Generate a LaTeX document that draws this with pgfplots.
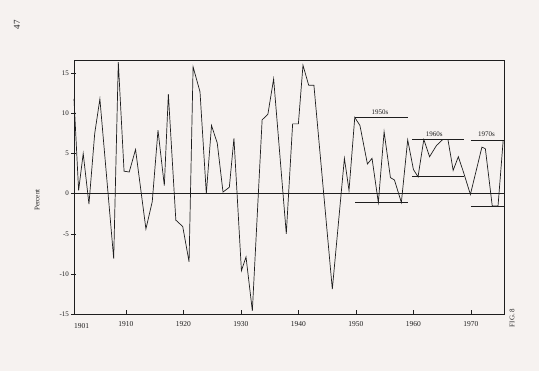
\documentclass[border=0pt]{standalone}
\usepackage{pgfplots}
\pgfplotsset{compat=1.18}
\usepackage{fontspec}
\setmainfont{Liberation Serif}
\definecolor{paper}{RGB}{246,242,240}
\definecolor{ink}{RGB}{30,30,30}
\begin{document}
\begin{tikzpicture}[x=1pt,y=1pt]
\useasboundingbox (0,0) rectangle (539,371);
\fill[paper] (0,0) rectangle (539,371);
\begin{axis}[
  at={(74pt,57pt)}, anchor=south west,
  scale only axis, width=430pt, height=254pt,
  xmin=1901, xmax=1975.74, ymin=-15, ymax=16.66,
  axis line style={ink, line width=0.75pt},
  xtick={1910,1920,...,1970},
  ytick={-15,-10,...,15},
  xtick pos=bottom, ytick pos=left,
  tick align=inside,
  major tick length=4pt,
  tick style={ink, line width=0.5pt},
  ytick style={xshift=-2.5pt},
  /pgf/number format/assume math mode=true,
  /pgf/number format/1000 sep={},
  x tick label style={font=\fontsize{7.5}{9}\selectfont, text=ink, yshift=-4pt},
  y tick label style={font=\fontsize{7}{9}\selectfont, text=ink, xshift=-1.5pt},
  clip=false,
]
\addplot[ink, line width=0.7pt] coordinates {
(1901.0,11.8) (1901.8,0.4) (1902.6,5.0) (1903.6,-1.3) (1904.6,7.5) (1905.5,11.8)
(1907.9,-8.1) (1908.7,16.4) (1909.7,2.8) (1910.6,2.7) (1911.7,5.5) (1913.5,-4.4)
(1914.6,-1.0) (1915.6,7.9) (1916.7,1.0) (1917.4,12.4) (1918.7,-3.3) (1919.9,-4.1)
(1921.0,-8.5) (1921.7,15.8) (1922.9,12.7) (1924.0,0.0) (1924.9,8.5) (1925.9,6.3)
(1926.9,0.2) (1928.0,0.8) (1928.8,6.9) (1930.1,-9.6) (1930.9,-7.9) (1932.0,-14.6)
(1933.7,9.2) (1934.7,9.9) (1935.7,14.3) (1937.9,-5.0) (1939.0,8.7) (1940.0,8.7)
(1940.8,16.0) (1941.8,13.5) (1942.7,13.5) (1945.9,-11.9) (1948.0,4.4) (1948.8,0.4)
(1949.8,9.5) (1950.7,8.5) (1952.0,3.7) (1952.8,4.4) (1953.9,-1.1) (1954.9,7.7)
(1956.0,2.0) (1956.7,1.7) (1957.9,-1.1) (1959.0,6.7) (1960.0,3.0) (1960.8,2.1)
(1961.8,6.75) (1962.8,4.6) (1964.0,6.0) (1965.1,6.75) (1966.0,6.75) (1966.9,2.9)
(1967.8,4.6) (1968.6,2.9) (1969.9,-0.1) (1971.9,5.8) (1972.5,5.6) (1973.7,-1.55)
(1974.7,-1.55) (1975.6,6.66)
};
% zero line
\addplot[ink, line width=0.75pt, forget plot] coordinates {(1901,0) (1975.74,0)};
% decade bands
\addplot[ink, line width=0.65pt, forget plot] coordinates {(1949.8,9.5) (1959.0,9.5)};
\addplot[ink, line width=0.65pt, forget plot] coordinates {(1949.9,-1.1) (1959.0,-1.1)};
\addplot[ink, line width=0.65pt, forget plot] coordinates {(1959.8,6.75) (1968.8,6.75)};
\addplot[ink, line width=0.65pt, forget plot] coordinates {(1959.8,2.1) (1968.8,2.1)};
\addplot[ink, line width=0.65pt, forget plot] coordinates {(1970.0,6.66) (1975.74,6.66)};
\addplot[ink, line width=0.65pt, forget plot] coordinates {(1970.0,-1.55) (1975.74,-1.55)};
\node[font=\fontsize{7}{8}\selectfont, text=ink, anchor=base] at (axis cs:1954.2,9.9) {1950s};
\node[font=\fontsize{7}{8}\selectfont, text=ink, anchor=base] at (axis cs:1963.6,7.1) {1960s};
\node[font=\fontsize{7}{8}\selectfont, text=ink, anchor=base] at (axis cs:1972.7,7.1) {1970s};
\node[font=\fontsize{7.5}{9}\selectfont, text=ink, anchor=north west, inner sep=0pt] at (axis cs:1901,-16.1) {1901};
\end{axis}
\node[rotate=90, font=\fontsize{7}{8}\selectfont, text=ink] at (37pt,171pt) {Percent};
\node[rotate=90, font=\fontsize{9}{10}\selectfont, text=ink] at (17pt,346pt) {47};
\node[rotate=90, font=\fontsize{7}{8}\selectfont, text=ink] at (512pt,53pt) {FIG.\ 8};
\end{tikzpicture}
\end{document}
